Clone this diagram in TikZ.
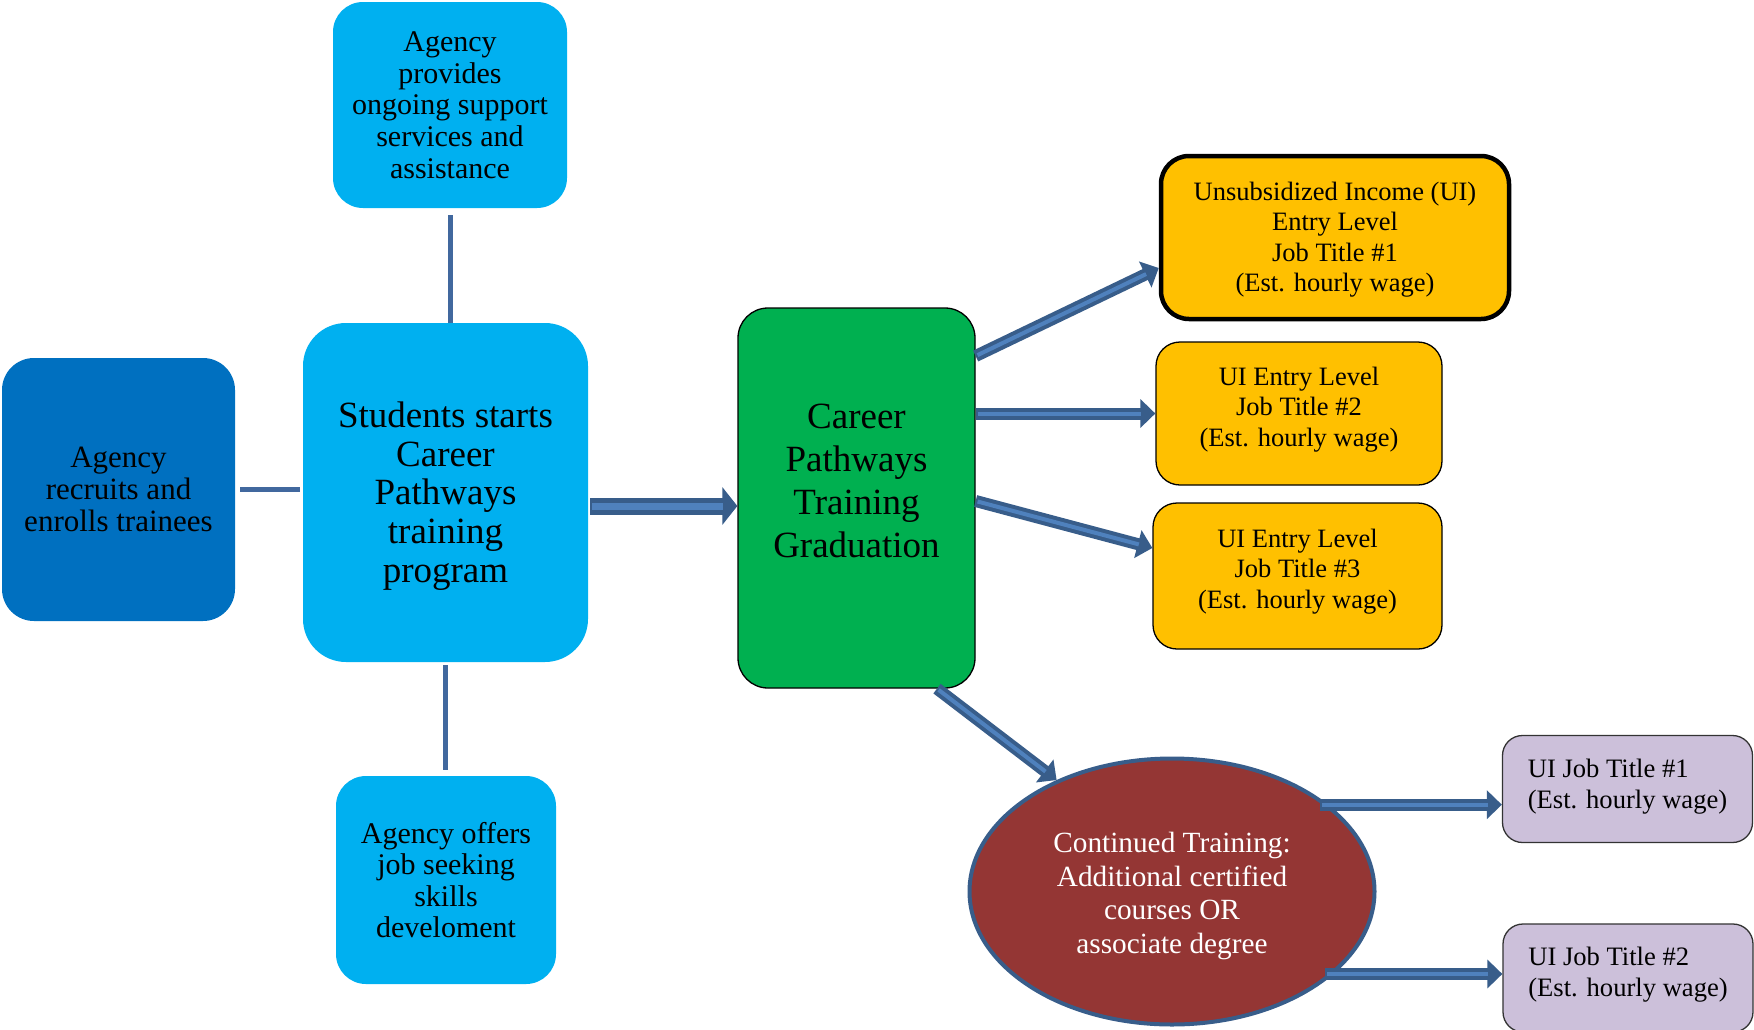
\documentclass[tikz,border=0pt]{standalone}
\usepackage{fontspec}
\setmainfont{Liberation Serif}
\usetikzlibrary{shapes.geometric,arrows.meta}

\definecolor{skyfill}{HTML}{00B0F0}
\definecolor{navyfill}{HTML}{0070C0}
\definecolor{greenfill}{HTML}{00B050}
\definecolor{goldfill}{HTML}{FFC000}
\definecolor{lilacfill}{HTML}{CCC0DA}
\definecolor{brickfill}{HTML}{943634}
\definecolor{arrowdark}{HTML}{385D8A}
\definecolor{arrowlight}{HTML}{4F81BD}
\definecolor{linkblue}{HTML}{41689E}

\newcommand\setfs[2]{\fontsize{#1}{#2}\selectfont}

\tikzset{
  box/.style={rectangle, inner sep=0pt, align=center, text=black},
  skybox/.style={box, fill=skyfill, draw=none},
  navybox/.style={box, fill=navyfill, draw=none},
  greenbox/.style={box, fill=greenfill, draw=black, line width=1.3pt, rounded corners=30pt},
  goldbox/.style={box, fill=goldfill, draw=black, line width=1.3pt, rounded corners=24pt},
  lilacbox/.style={box, fill=lilacfill, draw=black!80, line width=1.3pt, rounded corners=20pt},
  label/.style={inner sep=0pt, align=center, text=black},
  link/.style={draw=linkblue, line width=5pt},
  flow/.style={draw=arrowdark, line width=12pt, -{Triangle[width=28pt,length=15pt]},
    postaction={draw=arrowlight, line width=4pt, -, shorten >=14pt, shorten <=2pt}},
  bigflow/.style={draw=arrowdark, line width=17pt, -{Triangle[width=37pt,length=15pt]},
    postaction={draw=arrowlight, line width=7pt, -, shorten >=14pt, shorten <=2pt}},
}

\begin{document}
\begin{tikzpicture}[x=1pt, y=-1pt]
\clip (0,0) rectangle (1754,1029);
\fill[white] (0,0) rectangle (1754,1029);

% left column of agency boxes around the program start
\node[navybox, rounded corners=32pt, minimum width=233pt, minimum height=263pt,
      font=\setfs{31}{32.4}] (leftbox) at (118.5,489.5)
  {Agency\\recruits and\\enrolls trainees};
\node[skybox, rounded corners=43pt, minimum width=285pt, minimum height=339pt] (students) at (445.5,492.5) {};
\node[label, font=\setfs{37}{38.6}] (studentstext) at (445.5,496)
  {Students starts\\Career\\Pathways\\training\\program};
\node[skybox, rounded corners=30pt, minimum width=234pt, minimum height=206pt,
      font=\setfs{30}{31.7}] (topbox) at (450,105)
  {Agency\\provides\\ongoing support\\services and\\assistance};
\node[skybox, rounded corners=30pt, minimum width=220pt, minimum height=208pt,
      font=\setfs{30}{31.3}] (bottombox) at (446,880)
  {Agency offers\\job seeking\\skills\\develoment};

% graduation
\node[greenbox, minimum width=237pt, minimum height=380pt] (green) at (856.5,498) {};
\node[label, font=\setfs{37}{42.8}] (greentext) at (856.5,481)
  {Career\\Pathways\\Training\\Graduation};

% entry level jobs
\node[goldbox, line width=4.5pt, rounded corners=28pt, minimum width=348pt, minimum height=163pt] (ya) at (1335,237.5) {};
\node[label, font=\setfs{26.5}{30.5}] (yatext) at (1335,239.7)
  {Unsubsidized Income (UI)\\Entry Level\\Job Title \#1\\(Est. hourly wage)};
\node[goldbox, minimum width=286pt, minimum height=143pt] (yb) at (1299,413.5) {};
\node[label, font=\setfs{26.5}{30.5}] (ybtext) at (1299,409.4)
  {UI Entry Level\\Job Title \#2\\(Est. hourly wage)};
\node[goldbox, minimum width=289pt, minimum height=146pt] (yc) at (1297.5,576) {};
\node[label, font=\setfs{26.5}{30.5}] (yctext) at (1297.5,571.4)
  {UI Entry Level\\Job Title \#3\\(Est. hourly wage)};

% continued training
\node[ellipse, fill=brickfill, draw=arrowdark, line width=4pt, inner sep=0pt,
      minimum width=405pt, minimum height=266pt] (ell) at (1172,891.5) {};
\node[label, text=white, font=\setfs{29.3}{33.6}] (elltext) at (1172,896)
  {Continued Training:\\Additional certified\\courses OR\\associate degree};

% jobs after continued training
\node[lilacbox, minimum width=250pt, minimum height=107pt] (p1) at (1627.5,789) {};
\node[label, align=left, font=\setfs{26.6}{31.3}] (p1text) at (1627.5,786.3)
  {UI Job Title \#1\\(Est. hourly wage)};
\node[lilacbox, minimum width=250pt, minimum height=108pt] (p2) at (1628,978) {};
\node[label, align=left, font=\setfs{26.6}{31.3}] (p2text) at (1628,974.8)
  {UI Job Title \#2\\(Est. hourly wage)};

% plain links
\draw[link] ([xshift=5pt]leftbox.east) -- ([xshift=-3pt]leftbox.east -| students.west);
\draw[link] ([yshift=-7pt]topbox.south) -- (topbox.south |- students.north);
\draw[link] ([yshift=-3pt]students.south) -- ([yshift=6pt]students.south |- bottombox.north);

% block arrows
\draw[bigflow] ([yshift=-13.5pt,xshift=2pt]students.east) -- ([yshift=-13.5pt]students.east -| green.west);
\draw[flow] ([yshift=142pt]green.east) -- ([yshift=-30.5pt]ya.west);
\draw[flow] (green.east |- yb.west) -- (yb.west);
\draw[flow] ([yshift=-3pt]green.east) -- ([yshift=28pt]yc.west);
\draw[flow] ([xshift=80.5pt]green.south) -- (ell.136.5);
\draw[flow] ([xshift=-9pt]ell.29) -- (ell.29 -| p1.west);
\draw[flow] ([xshift=-9pt]ell.-27) -- (ell.-27 -| p2.west);
\end{tikzpicture}
\end{document}
